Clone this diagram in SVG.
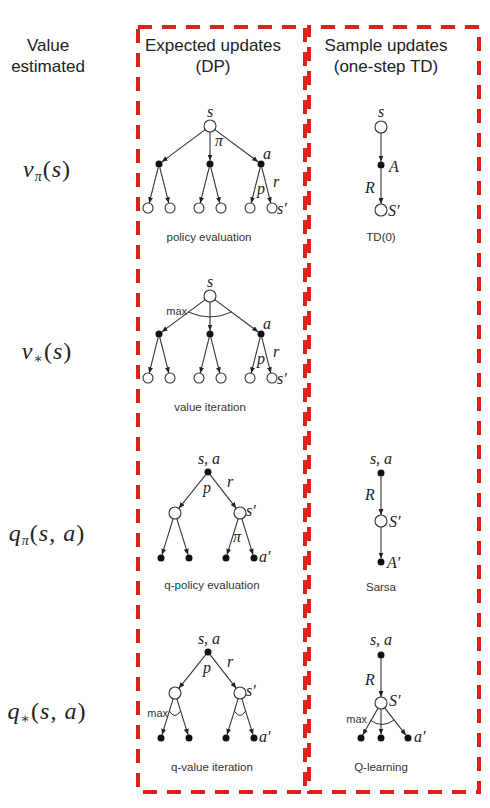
<svg xmlns="http://www.w3.org/2000/svg" width="490" height="808" viewBox="0 0 490 808">
<defs>
<marker id="arr" markerUnits="userSpaceOnUse" markerWidth="6" markerHeight="5" refX="6" refY="2.5" orient="auto">
<path d="M0,0 L6,2.5 L0,5 z" fill="#222"/>
</marker>
<style>
.box{fill:none;stroke:#e3211b;stroke-width:4;stroke-dasharray:14 10}
.hd{font-family:"Liberation Sans",Arial,sans-serif;font-size:17px;fill:#222;text-anchor:middle}
.cap{font-family:"Liberation Sans",Arial,sans-serif;font-size:11.5px;fill:#333;text-anchor:middle}
.m{font-family:"Liberation Serif","DejaVu Serif",serif;font-style:italic;font-size:16px;fill:#222}
.mb{font-family:"Liberation Serif","DejaVu Serif",serif;font-style:italic;font-size:24px;fill:#222;text-anchor:middle;letter-spacing:1px}
.mx{font-family:"Liberation Sans",Arial,sans-serif;font-size:11px;fill:#333;text-anchor:end}
.c{text-anchor:middle}
.e{fill:none;stroke:#333;stroke-width:1.1;marker-end:url(#arr)}
.arc{fill:none;stroke:#333;stroke-width:1}
.o{fill:#fff;stroke:#333;stroke-width:1.1}
.f{fill:#111}
</style>
</defs>
<rect width="490" height="808" fill="#fff"/>

<g id="boxes">
<rect class="box" x="138" y="27" width="167" height="765"/>
<rect class="box" x="309" y="27" width="170" height="765" style="stroke-dashoffset:12"/>
</g>

<g id="headers">
<text class="hd" x="48" y="51">Value</text>
<text class="hd" x="48" y="72">estimated</text>
<text class="hd" x="213" y="51">Expected updates</text>
<text class="hd" x="213" y="72">(DP)</text>
<text class="hd" x="386" y="51">Sample updates</text>
<text class="hd" x="386" y="72">(one-step TD)</text>
</g>

<g id="row-labels">
<text class="mb" x="47" y="177">v<tspan font-size="14" dy="4">π</tspan><tspan font-style="normal" dy="-4">(</tspan>s<tspan font-style="normal">)</tspan></text>
<text class="mb" x="47" y="359">v<tspan font-size="14" font-style="normal" dy="4">∗</tspan><tspan font-style="normal" dy="-4">(</tspan>s<tspan font-style="normal">)</tspan></text>
<text class="mb" x="47" y="541">q<tspan font-size="14" dy="4">π</tspan><tspan font-style="normal" dy="-4">(</tspan>s<tspan font-style="normal">, </tspan>a<tspan font-style="normal">)</tspan></text>
<text class="mb" x="47" y="719">q<tspan font-size="14" font-style="normal" dy="4">∗</tspan><tspan font-style="normal" dy="-4">(</tspan>s<tspan font-style="normal">, </tspan>a<tspan font-style="normal">)</tspan></text>
</g>

<g id="connectors">
<!-- policy evaluation -->
<line class="e" x1="205.2" y1="129.6" x2="161.8" y2="161.9"/>
<line class="e" x1="210" y1="132" x2="210" y2="160.5"/>
<line class="e" x1="214.8" y1="129.6" x2="258.2" y2="161.9"/>
<line class="e" x1="158.2" y1="167.4" x2="149.2" y2="203.2"/>
<line class="e" x1="159.8" y1="167.4" x2="168.8" y2="203.2"/>
<line class="e" x1="209.2" y1="167.4" x2="200.2" y2="203.2"/>
<line class="e" x1="210.8" y1="167.4" x2="219.8" y2="203.2"/>
<line class="e" x1="260.2" y1="167.4" x2="251.2" y2="203.2"/>
<line class="e" x1="261.8" y1="167.4" x2="270.8" y2="203.2"/>
<!-- value iteration -->
<line class="e" x1="205.2" y1="299.6" x2="161.8" y2="331.9"/>
<line class="e" x1="210" y1="302" x2="210" y2="330.5"/>
<line class="e" x1="214.8" y1="299.6" x2="258.2" y2="331.9"/>
<line class="e" x1="158.2" y1="337.4" x2="149.2" y2="373.2"/>
<line class="e" x1="159.8" y1="337.4" x2="168.8" y2="373.2"/>
<line class="e" x1="209.2" y1="337.4" x2="200.2" y2="373.2"/>
<line class="e" x1="210.8" y1="337.4" x2="219.8" y2="373.2"/>
<line class="e" x1="260.2" y1="337.4" x2="251.2" y2="373.2"/>
<line class="e" x1="261.8" y1="337.4" x2="270.8" y2="373.2"/>
<path class="arc" d="M188.5,312 Q210,322 231.5,312"/>
<!-- q-policy evaluation -->
<line class="e" x1="205.8" y1="474.7" x2="178.8" y2="508.3"/>
<line class="e" x1="210.2" y1="474.8" x2="236.3" y2="508.3"/>
<line class="e" x1="173.2" y1="518.7" x2="162" y2="554.7"/>
<line class="e" x1="176.8" y1="518.7" x2="188" y2="554.7"/>
<line class="e" x1="238.2" y1="518.7" x2="227" y2="554.7"/>
<line class="e" x1="241.8" y1="518.7" x2="253" y2="554.7"/>
<!-- q-value iteration -->
<line class="e" x1="205.8" y1="654.7" x2="178.8" y2="688.3"/>
<line class="e" x1="210.2" y1="654.8" x2="236.3" y2="688.3"/>
<line class="e" x1="173.2" y1="698.7" x2="162" y2="734.7"/>
<line class="e" x1="176.8" y1="698.7" x2="188" y2="734.7"/>
<line class="e" x1="238.2" y1="698.7" x2="227" y2="734.7"/>
<line class="e" x1="241.8" y1="698.7" x2="253" y2="734.7"/>
<path class="arc" d="M169.3,711 Q175,720 180.7,711"/>
<path class="arc" d="M234.3,711 Q240,720 245.7,711"/>
<!-- TD(0) -->
<line class="e" x1="381" y1="133" x2="381" y2="161.5"/>
<line class="e" x1="381" y1="168.5" x2="381" y2="204"/>
<!-- Sarsa -->
<line class="e" x1="381" y1="476.5" x2="381" y2="515"/>
<line class="e" x1="381" y1="527" x2="381" y2="558.5"/>
<!-- Q-learning -->
<line class="e" x1="381" y1="658.5" x2="381" y2="697"/>
<line class="e" x1="378" y1="708.2" x2="362.7" y2="735"/>
<line class="e" x1="381" y1="709" x2="381" y2="734.5"/>
<line class="e" x1="384.7" y1="707.8" x2="405.9" y2="735.2"/>
<path class="arc" d="M370,720 Q382,729 394,720"/>
</g>

<g id="policy-evaluation">
<circle class="o" cx="210" cy="126" r="6"/>
<circle class="f" cx="159" cy="164" r="3.5"/>
<circle class="f" cx="210" cy="164" r="3.5"/>
<circle class="f" cx="261" cy="164" r="3.5"/>
<circle class="o" cx="148" cy="208" r="5"/>
<circle class="o" cx="170" cy="208" r="5"/>
<circle class="o" cx="199" cy="208" r="5"/>
<circle class="o" cx="221" cy="208" r="5"/>
<circle class="o" cx="250" cy="208" r="5"/>
<circle class="o" cx="272" cy="208" r="5"/>
<text class="m c" x="210" y="117">s</text>
<text class="m" x="215" y="146" font-size="13">π</text>
<text class="m" x="263" y="159">a</text>
<text class="m" x="257" y="194">p</text>
<text class="m" x="273" y="187">r</text>
<text class="m" x="277" y="214">s′</text>
<text class="cap" x="209" y="241">policy evaluation</text>
</g>

<g id="value-iteration">
<circle class="o" cx="210" cy="296" r="6"/>
<circle class="f" cx="159" cy="334" r="3.5"/>
<circle class="f" cx="210" cy="334" r="3.5"/>
<circle class="f" cx="261" cy="334" r="3.5"/>
<circle class="o" cx="148" cy="378" r="5"/>
<circle class="o" cx="170" cy="378" r="5"/>
<circle class="o" cx="199" cy="378" r="5"/>
<circle class="o" cx="221" cy="378" r="5"/>
<circle class="o" cx="250" cy="378" r="5"/>
<circle class="o" cx="272" cy="378" r="5"/>
<text class="m c" x="210" y="287">s</text>
<text class="mx" x="187" y="315">max</text>
<text class="m" x="263" y="329">a</text>
<text class="m" x="257" y="364">p</text>
<text class="m" x="273" y="357">r</text>
<text class="m" x="277" y="384">s′</text>
<text class="cap" x="210" y="411">value iteration</text>
</g>

<g id="q-policy-evaluation">
<circle class="f" cx="208" cy="472" r="3.5"/>
<circle class="o" cx="175" cy="513" r="6"/>
<circle class="o" cx="240" cy="513" r="6"/>
<circle class="f" cx="161" cy="558" r="3.5"/>
<circle class="f" cx="189" cy="558" r="3.5"/>
<circle class="f" cx="226" cy="558" r="3.5"/>
<circle class="f" cx="254" cy="558" r="3.5"/>
<text class="m c" x="209" y="464">s, a</text>
<text class="m c" x="207" y="493">p</text>
<text class="m c" x="230" y="487">r</text>
<text class="m" x="246" y="516">s′</text>
<text class="m c" x="237" y="542" font-size="12">π</text>
<text class="m" x="259" y="562">a′</text>
<text class="cap" x="212" y="589">q-policy evaluation</text>
</g>

<g id="q-value-iteration">
<circle class="f" cx="208" cy="652" r="3.5"/>
<circle class="o" cx="175" cy="693" r="6"/>
<circle class="o" cx="240" cy="693" r="6"/>
<circle class="f" cx="161" cy="738" r="3.5"/>
<circle class="f" cx="189" cy="738" r="3.5"/>
<circle class="f" cx="226" cy="738" r="3.5"/>
<circle class="f" cx="254" cy="738" r="3.5"/>
<text class="m c" x="209" y="644">s, a</text>
<text class="m c" x="207" y="673">p</text>
<text class="m c" x="230" y="667">r</text>
<text class="m" x="246" y="696">s′</text>
<text class="mx" x="168" y="717">max</text>
<text class="m" x="259" y="742">a′</text>
<text class="cap" x="212" y="771">q-value iteration</text>
</g>

<g id="td0">
<circle class="o" cx="381" cy="127" r="6"/>
<circle class="f" cx="381" cy="165" r="3.5"/>
<circle class="o" cx="381" cy="210" r="6"/>
<text class="m c" x="381" y="117">s</text>
<text class="m" x="389" y="172">A</text>
<text class="m c" x="370" y="193">R</text>
<text class="m" x="388" y="216">S′</text>
<text class="cap" x="381" y="241">TD(0)</text>
</g>

<g id="sarsa">
<circle class="f" cx="381" cy="473" r="3.5"/>
<circle class="o" cx="381" cy="521" r="6"/>
<circle class="f" cx="381" cy="562" r="3.5"/>
<text class="m c" x="381" y="464">s, a</text>
<text class="m c" x="370" y="500">R</text>
<text class="m" x="389" y="527">S′</text>
<text class="m" x="387" y="568">A′</text>
<text class="cap" x="381" y="591">Sarsa</text>
</g>

<g id="q-learning">
<circle class="f" cx="381" cy="655" r="3.5"/>
<circle class="o" cx="381" cy="703" r="6"/>
<circle class="f" cx="361" cy="738" r="3.5"/>
<circle class="f" cx="381" cy="738" r="3.5"/>
<circle class="f" cx="408" cy="738" r="3.5"/>
<text class="m c" x="381" y="645">s, a</text>
<text class="m c" x="370" y="685">R</text>
<text class="m" x="389" y="706">S′</text>
<text class="mx" x="367" y="723">max</text>
<text class="m" x="414" y="742">a′</text>
<text class="cap" x="381" y="771">Q-learning</text>
</g>
</svg>
